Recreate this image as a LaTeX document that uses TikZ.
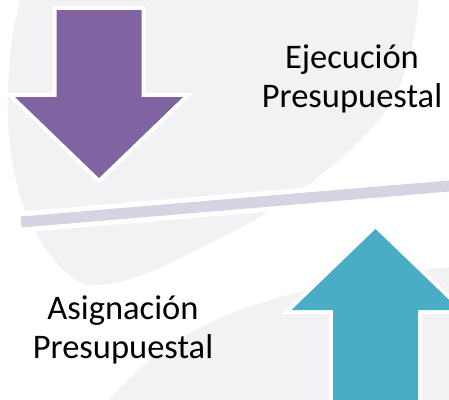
\documentclass[tikz,border=0pt]{standalone}
\usepackage{fontspec}
\setmainfont{Carlito}
\usepackage{tikz}
\usetikzlibrary{positioning}
\definecolor{fondo}{RGB}{242,242,244}
\definecolor{barra}{RGB}{215,211,227}
\definecolor{morado}{RGB}{128,100,162}
\definecolor{turquesa}{RGB}{75,172,198}
\tikzset{
  flecha/.style={fill=#1, preaction={draw=white, line width=8pt, line join=miter, miter limit=10}},
  rotulo/.style={inner sep=0pt, align=center, font=\fontsize{34.5}{39}\selectfont, text=black},
  linea/.style={line width=#1, line cap=butt}
}

\begin{document}
\begin{tikzpicture}[x=1pt, y=-1pt]
  \useasboundingbox (0,0) rectangle (449,399);
  \clip (0,0) rectangle (449,399);
  % Background shapes
  \fill[fondo] (20,-20) -- (20,0) .. controls (2,70) and (0,180) .. (40,240)
    .. controls (60,270) and (75,287) .. (100,285)
    .. controls (140,282) and (180,258) .. (217,240)
    .. controls (270,215) and (370,150) .. (398,90)
    .. controls (410,60) and (418,30) .. (420,-20) -- cycle;
  \fill[fondo] (100,420) -- (110,399) .. controls (160,340) and (220,312) .. (300,292)
    .. controls (360,278) and (420,270) .. (460,266) -- (460,420) -- cycle;
  % Separator
  \draw[white, linea=21pt] (21,222) -- (460,185.1);
  \draw[barra, linea=11pt] (21,222) -- (460,185.1);
  % Arrows
  \fill[flecha=morado] (56.5,10) -- (141.5,10) -- (141.5,97) -- (183,97)
    -- (99,178) -- (15,97) -- (56.5,97) -- cycle;
  \fill[flecha=turquesa] (333,420) -- (333,310) -- (291.5,310) -- (375.5,229)
    -- (459.5,310) -- (418,310) -- (418,420) -- cycle;
  % Labels
  \node[rotulo, anchor=base] (ejecucion) at (352,107) {Ejecución\\Presupuestal};
  \node[rotulo, anchor=base] (asignacion) at (123,358) {Asignación\\Presupuestal};
\end{tikzpicture}
\end{document}
